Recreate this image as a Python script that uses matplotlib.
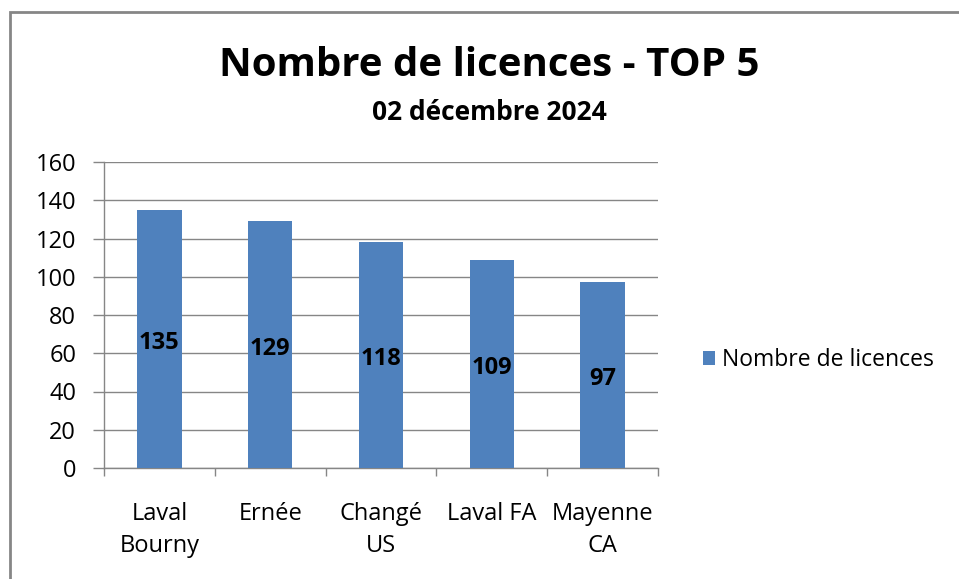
import matplotlib
matplotlib.use('Agg')
import matplotlib.pyplot as plt
from matplotlib.patches import Rectangle
import numpy as np

plt.rcParams['font.family'] = ['Open Sans', 'DejaVu Sans']

# données
clubs = ['Laval\nBourny', 'Ernée', 'Changé\nUS', 'Laval FA', 'Mayenne\nCA']
licences = [135, 129, 118, 109, 97]
serie = 'Nombre de licences'
titre = 'Nombre de licences - TOP 5'
sous_titre = '02 décembre 2024'

bleu = '#4F81BD'
gris = '#868686'

fig = plt.figure(figsize=(9.59, 5.79), dpi=100)
ax = fig.add_axes([104 / 959, 1 - 468 / 579, 554 / 959, 306 / 579])

x = np.arange(len(clubs))
bars = ax.bar(x, licences, width=0.4, color=bleu, label=serie, zorder=3)

# étiquettes au milieu des barres
for xi, v in zip(x, licences):
    ax.annotate(str(v), (xi, v / 2), xytext=(0, -3), textcoords='offset points',
                ha='center', va='center', fontsize=17, fontweight='bold',
                color='black', zorder=4)

ax.set_xlim(-0.5, len(clubs) - 0.5)
ax.set_ylim(0, 160)
ax.set_yticks(np.arange(0, 161, 20))
ax.grid(axis='y', color=gris, lw=1, zorder=0)

ax.set_xticks(x)
ax.set_xticklabels(clubs, fontsize=17, linespacing=1.42)
ax.set_xticks(np.arange(-0.5, len(clubs)), minor=True)
ax.tick_params(axis='x', which='major', length=0, pad=24.5)
ax.tick_params(axis='x', which='minor', length=6, color=gris, width=1)
ax.tick_params(axis='y', length=8, color=gris, width=1, labelsize=17, pad=12)

for s in ['top', 'right']:
    ax.spines[s].set_visible(False)
for s in ['left', 'bottom']:
    ax.spines[s].set_color(gris)
    ax.spines[s].set_linewidth(1)

fig.text(489 / 959, 1 - 65 / 579, titre, ha='center', va='center',
         fontsize=29, fontweight='bold')
fig.text(489 / 959, 1 - 112 / 579, sous_titre, ha='center', va='center',
         fontsize=19, fontweight='bold')

leg = ax.legend(loc='center left', bbox_to_anchor=(1.081, 0.353), frameon=False,
                fontsize=16.5, borderpad=0, borderaxespad=0,
                handlelength=0.55, handleheight=0.55, handletextpad=0.3)

# cadre du graphique
fig.patches.append(Rectangle((10 / 959, -0.05), 1.1, 1 - 12 / 579 + 0.05,
                             transform=fig.transFigure, fill=False,
                             edgecolor=gris, lw=2))

plt.savefig('out.png', dpi=100)
